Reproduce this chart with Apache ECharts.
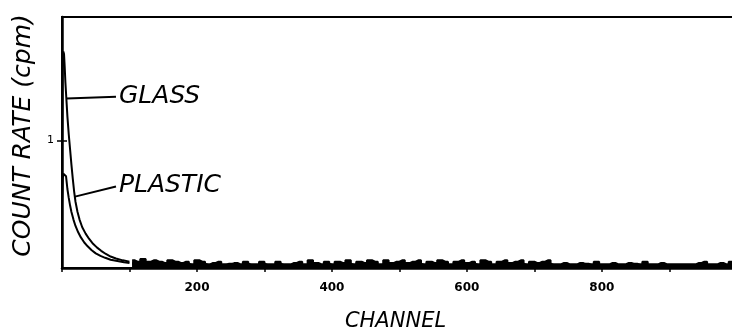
<!DOCTYPE html>
<html>
<head>
<meta charset="utf-8">
<script src="https://cdn.jsdelivr.net/npm/echarts@6/dist/echarts.min.js"></script>
<style>
html,body{margin:0;padding:0;background:#fff;}
#chart{width:732px;height:333px;}
</style>
</head>
<body>
<div id="chart"></div>
<script>
// ---- data ----
const xTickLabels = [200, 400, 600, 800];
const yTickLabels = [1];

const glassDecayChannels = [0, 1, 2, 3, 4, 5, 6, 7, 8, 10, 12, 14, 16, 18, 20, 23, 26, 30, 35, 40, 46, 52, 58, 65, 72, 80, 90, 100];
const glassDecayValues   = [0.9, 1.62, 1.70, 1.68, 1.58, 1.46, 1.37, 1.28, 1.19, 1.05, 0.93, 0.81, 0.70, 0.60, 0.52, 0.44, 0.38, 0.32, 0.27, 0.23, 0.19, 0.16, 0.135, 0.11, 0.09, 0.075, 0.06, 0.05];

const plasticDecayChannels = [0, 1, 2, 4, 6, 7, 8, 10, 12, 14, 17, 20, 24, 28, 33, 38, 44, 50, 57, 64, 72, 82, 92, 100];
const plasticDecayValues   = [0.5, 0.70, 0.74, 0.745, 0.72, 0.67, 0.62, 0.55, 0.49, 0.44, 0.38, 0.33, 0.28, 0.24, 0.20, 0.17, 0.14, 0.115, 0.095, 0.08, 0.065, 0.055, 0.045, 0.04];

const tailChannels = [104,112,120,128,136,144,152,160,168,176,184,192,200,208,216,224,232,240,248,256,264,272,280,288,296,304,312,320,328,336,344,352,360,368,376,384,392,400,408,416,424,432,440,448,456,464,472,480,488,496,504,512,520,528,536,544,552,560,568,576,584,592,600,608,616,624,632,640,648,656,664,672,680,688,696,704,712,720,728,736,744,752,760,768,776,784,792,800,808,816,824,832,840,848,856,864,872,880,888,896,904,912,920,928,936,944,952,960,968,976,984,992,1000,1008,1016,1024];
const glassTail = [0.06,0.05,0.07,0.05,0.06,0.05,0.04,0.06,0.05,0.04,
                   0.05,0.03,0.06,0.05,0.03,0.04,0.05,0.03,0.03,0.04,
                   0.03,0.05,0.03,0.03,0.05,0.03,0.03,0.05,0.03,0.03,
                   0.04,0.05,0.03,0.06,0.04,0.03,0.05,0.03,0.05,0.04,
                   0.06,0.03,0.05,0.04,0.06,0.05,0.03,0.06,0.04,0.05,
                   0.06,0.04,0.05,0.06,0.03,0.05,0.04,0.06,0.05,0.03,
                   0.05,0.06,0.04,0.05,0.03,0.06,0.05,0.03,0.05,0.06,
                   0.04,0.05,0.06,0.03,0.05,0.04,0.05,0.06,0.03,0.03,
                   0.04,0.03,0.03,0.04,0.03,0.03,0.05,0.03,0.03,0.04,
                   0.03,0.03,0.04,0.03,0.03,0.05,0.03,0.03,0.04,0.03,
                   0.03,0.03,0.03,0.03,0.03,0.04,0.05,0.03,0.03,0.04,
                   0.03,0.05,0.03,0.03,0.04,0.03];
const plasticTail = [0.04,0.04,0.03,0.04,0.03,0.03,0.03,0.03,0.03,0.03,
                     0.03,0.02,0.03,0.03,0.02,0.03,0.02,0.02,0.03,0.02,
                     0.02,0.03,0.02,0.02,0.03,0.02,0.02,0.03,0.02,0.02,
                     0.03,0.02,0.02,0.03,0.02,0.02,0.03,0.02,0.03,0.02,
                     0.03,0.02,0.03,0.02,0.03,0.02,0.02,0.03,0.02,0.03,
                     0.03,0.02,0.03,0.03,0.02,0.03,0.02,0.03,0.02,0.02,
                     0.03,0.03,0.02,0.03,0.02,0.03,0.02,0.02,0.03,0.03,
                     0.02,0.03,0.03,0.02,0.03,0.02,0.03,0.03,0.02,0.02,
                     0.02,0.02,0.02,0.02,0.03,0.02,0.02,0.02,0.02,0.02,
                     0.02,0.02,0.02,0.03,0.02,0.02,0.02,0.02,0.02,0.02,
                     0.02,0.02,0.02,0.02,0.02,0.02,0.02,0.02,0.02,0.02,
                     0.02,0.02,0.02,0.02,0.02,0.02];

const glassLeader   = [[6.7, 1.33], [80, 1.345]];
const plasticLeader = [[19.3, 0.56], [80, 0.64]];

// ---- build ----
const zip = (a, b) => a.map((v, i) => [v, b[i]]);
const FONT = 'DejaVu Sans';
const lineStyle = { color: '#000', width: 2 };

const chart = echarts.init(document.getElementById('chart'), null, { renderer: 'canvas' });
chart.setOption({
  animation: false,
  backgroundColor: '#fff',
  grid: { left: 62, top: 17, width: 691, height: 251, outerBoundsMode: 'none', containLabel: false,
          show: true, borderColor: '#000', borderWidth: 2, backgroundColor: 'transparent' },
  xAxis: {
    type: 'value', min: 0, max: 1024, interval: 100,
    name: 'CHANNEL', nameLocation: 'middle', nameGap: 43,
    nameTextStyle: { fontFamily: FONT, fontStyle: 'italic', fontSize: 21, color: '#000', padding: [0, 24, 0, 0] },
    axisLine: { show: true, lineStyle: { color: '#000', width: 2.5 } },
    axisTick: { show: true, length: 4, lineStyle: { color: '#000', width: 1.5 } },
    axisLabel: {
      color: '#000', fontFamily: FONT, fontWeight: 'bold', fontSize: 12, margin: 14,
      formatter: v => (xTickLabels.indexOf(v) >= 0 ? String(v) : '')
    },
    splitLine: { show: false }
  },
  yAxis: [{
    type: 'value', min: 0, max: 1.97,
    name: 'COUNT RATE (cpm)', nameLocation: 'middle', nameGap: 26,
    nameTextStyle: { fontFamily: FONT, fontStyle: 'italic', fontSize: 25, color: '#000', padding: [0, 0, 0, 14] },
    axisLine: { show: true, lineStyle: { color: '#000', width: 2.5 } },
    axisTick: { show: true, length: 5, customValues: yTickLabels, lineStyle: { color: '#000', width: 1.5 } },
    axisLabel: { color: '#000', fontFamily: FONT, fontSize: 11, margin: 8, customValues: yTickLabels, formatter: v => String(v) },
    splitLine: { show: false }
  }, {
    type: 'value', min: 0, max: 1.97, position: 'left',
    axisLine: { show: false },
    axisTick: { show: true, inside: true, length: 5, customValues: yTickLabels, lineStyle: { color: '#000', width: 1.5 } },
    axisLabel: { show: false },
    splitLine: { show: false }
  }],
  series: [
    {
      type: 'line', name: 'GLASS', data: zip(glassDecayChannels, glassDecayValues),
      showSymbol: false, lineStyle: lineStyle, z: 3,
      markLine: {
        silent: true, symbol: 'none', animation: false,
        lineStyle: { color: '#000', width: 2, type: 'solid' },
        label: { show: true, position: 'end', distance: 3, formatter: 'GLASS', color: '#000', fontFamily: FONT, fontStyle: 'italic', fontSize: 25 },
        data: [[{ coord: glassLeader[0] }, { coord: glassLeader[1] }]]
      }
    },
    {
      type: 'line', name: 'PLASTIC', data: zip(plasticDecayChannels, plasticDecayValues),
      showSymbol: false, lineStyle: lineStyle, z: 3,
      markLine: {
        silent: true, symbol: 'none', animation: false,
        lineStyle: { color: '#000', width: 2, type: 'solid' },
        label: { show: true, position: 'end', distance: 3, formatter: 'PLASTIC', color: '#000', fontFamily: FONT, fontStyle: 'italic', fontSize: 25 },
        data: [[{ coord: plasticLeader[0] }, { coord: plasticLeader[1] }]]
      }
    },
    { type: 'line', name: 'GLASS tail', data: zip(tailChannels, glassTail), step: 'middle', showSymbol: false,
      lineStyle: { color: '#000', width: 2 }, areaStyle: { color: '#000', opacity: 1 } },
    { type: 'line', name: 'PLASTIC tail', data: zip(tailChannels, plasticTail), step: 'middle', showSymbol: false,
      lineStyle: { color: '#000', width: 3 }, areaStyle: { color: '#000', opacity: 1 } }
  ]
});
</script>
</body>
</html>
